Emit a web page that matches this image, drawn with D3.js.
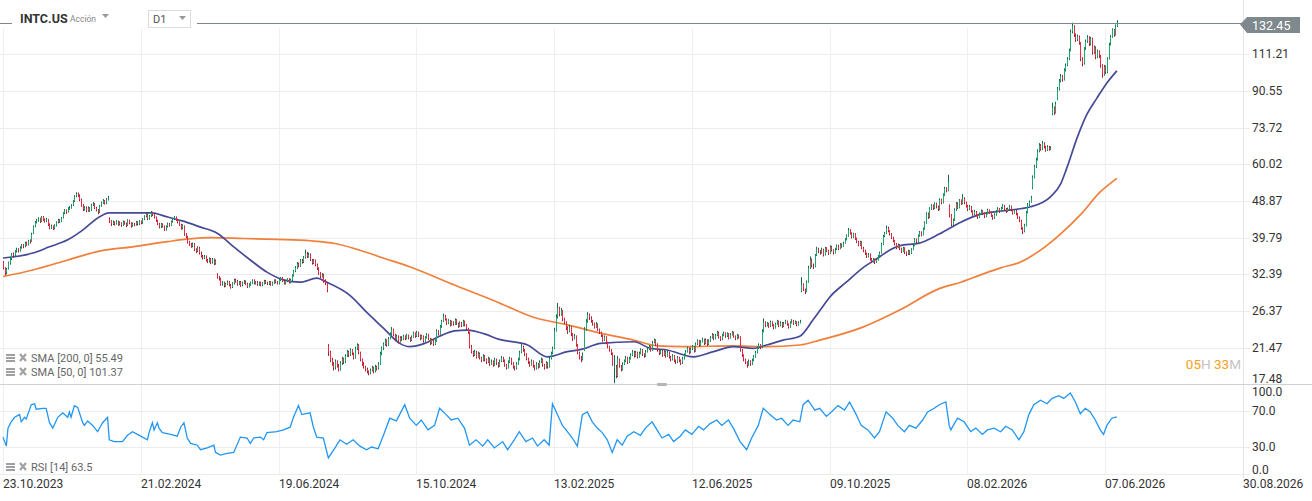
<!DOCTYPE html>
<html>
<head>
<meta charset="utf-8">
<script src="https://cdn.jsdelivr.net/npm/d3@7"></script>
<style>
html, body { margin: 0; padding: 0; background: #fff; }
svg { display: block; font-family: Roboto, "Noto Sans", sans-serif; }
</style>
</head>
<body>
<svg id="chart" width="1312" height="501"></svg>
<script>
// velas diarias [open, high, low, close]
const ohlc2023 = [
[34.7,34.9,33.3,33.6],[33.5,33.7,32.2,32.6],[32.7,33.6,32.4,33.4],[33.5,34.8,33.3,34.6],[34.5,35.6,34.2,35.3],[35.4,36.5,35.1,36.2],[36.3,36.6,35.6,36.0],[36.0,37.1,35.8,36.8],[36.9,37.6,36.6,37.2],[37.3,37.5,36.6,37.0],
[37.0,37.9,36.8,37.6],[37.7,38.4,37.4,38.1],[38.2,38.4,37.5,37.9],[37.9,38.9,37.7,38.6],[38.7,38.9,38.0,38.3],[38.3,39.3,38.1,39.0],[39.1,39.4,38.5,38.8],[39.0,40.9,38.9,40.6],[40.8,42.6,40.6,42.3],[42.5,43.7,42.2,43.4],
[43.5,44.2,43.1,43.8],[43.9,44.6,43.5,44.2],[44.3,44.5,43.2,43.5],[43.6,44.9,43.4,44.6],[44.7,44.9,43.7,44.0],[44.0,44.3,43.3,43.6],[43.7,44.5,43.4,44.1],[44.1,44.2,42.5,42.8],[42.9,43.1,41.7,42.0],[42.1,42.8,41.8,42.4],
[42.4,42.6,41.5,41.8],[41.9,42.9,41.7,42.6],[42.7,43.6,42.4,43.3],[43.4,44.2,43.1,43.9],[44.0,44.2,43.2,43.5],[43.6,44.7,43.4,44.4],[44.5,45.9,44.3,45.6],[45.7,46.7,45.4,46.3],[46.4,46.6,45.5,45.9],[46.0,47.2,45.8,46.8],
[46.9,47.5,46.5,47.0],[47.1,48.0,46.8,47.6],[47.7,49.1,47.5,48.7],[48.8,50.5,48.6,50.1],[50.2,51.3,49.9,50.8],[50.9,51.2,50.0,50.4],[50.4,50.7,48.8,49.2],[49.2,49.5,47.3,47.6]
];
const ohlc2024 = [
[47.7,48.0,46.2,46.6],[46.6,47.5,46.3,47.1],
[47.1,47.4,45.9,46.2],[46.3,47.4,46.0,47.0],[47.0,47.2,46.0,46.3],[46.4,48.1,46.2,47.8],[47.9,48.6,47.5,48.1],[48.1,48.3,46.7,47.0],[47.0,47.3,46.1,46.4],[46.4,46.7,45.4,45.8],[45.9,47.8,45.7,47.5],[47.6,48.7,47.3,48.3],
[48.4,49.4,48.1,48.9],[48.9,49.1,47.9,48.2],[48.3,49.7,48.0,49.3],[49.4,50.3,49.0,49.8],[44.2,44.6,43.2,43.6],[43.7,43.9,42.5,42.9],[43.0,43.8,42.7,43.4],[43.4,43.6,42.6,43.0],[43.1,43.9,42.8,43.6],[43.6,43.8,42.5,42.8],
[42.9,43.6,42.6,43.2],[43.2,43.4,42.3,42.7],[42.8,43.8,42.5,43.5],[43.5,43.7,42.8,43.1],[43.1,43.3,42.2,42.6],[42.7,44.1,42.5,43.8],[43.8,44.0,42.9,43.2],[43.2,43.4,42.1,42.5],[42.6,43.3,42.3,43.0],[43.0,43.2,42.4,42.8],
[42.9,43.7,42.6,43.4],[43.4,43.6,42.6,42.9],[43.0,43.9,42.7,43.6],[43.6,43.8,42.9,43.2],[43.3,44.4,43.0,44.1],[44.2,45.1,43.9,44.8],[44.9,45.8,44.6,45.4],[45.4,45.6,43.9,44.2],[44.3,45.2,44.0,44.9],[45.0,46.2,44.7,45.8],
[45.8,46.0,44.9,45.2],[45.2,45.4,44.3,44.6],[44.6,44.8,43.5,43.8],[43.8,44.0,42.7,43.0],[43.0,43.2,41.9,42.2],[42.3,43.2,42.0,42.9],[42.9,43.1,42.1,42.4],[42.4,42.6,41.3,41.6],[41.7,42.6,41.4,42.3],[42.4,43.3,42.1,43.0],
[43.0,43.2,42.3,42.6],[42.7,43.8,42.5,43.5],[43.6,44.4,43.3,44.1],[44.2,44.9,43.9,44.6],[44.6,44.8,43.7,44.0],[44.0,44.2,43.1,43.4],[43.4,43.6,42.5,42.8],[42.8,43.0,41.6,41.9],[42.0,42.9,41.7,42.6],[42.4,42.6,40.2,40.5],
[40.5,40.8,39.7,40.0],[40.0,40.2,38.5,38.8],[38.9,39.1,38.0,38.3],[38.3,38.6,37.6,37.9],[38.0,38.7,37.7,38.4],[38.4,38.6,36.9,37.2],[37.2,37.5,36.5,36.8],[36.9,37.9,36.7,37.6],[37.6,37.8,36.2,36.5],[36.5,36.8,35.6,35.9],
[35.9,36.1,35.2,35.5],[35.6,36.1,35.3,35.8],[35.8,36.0,34.8,35.1],[35.1,35.3,34.5,34.8],[34.9,35.6,34.6,35.3],[35.3,35.5,34.3,34.6],[34.7,35.5,34.4,35.2],[35.2,35.4,34.1,34.4],[34.5,35.2,34.2,34.9],[32.4,32.6,31.6,31.9],
[31.9,32.1,31.3,31.6],[31.6,31.8,30.4,30.6],[30.7,31.2,30.4,30.9],[30.9,31.1,30.1,30.4],[30.4,30.9,30.2,30.7],[30.7,31.3,30.5,31.0],[31.0,31.2,30.3,30.5],[30.5,30.7,29.9,30.1],[30.2,31.0,30.0,30.8],[30.8,31.6,30.6,31.4],
[31.4,31.6,30.9,31.2],[31.2,31.4,30.4,30.6],[30.7,31.2,30.5,31.0],[31.0,31.2,30.2,30.4],[30.5,31.1,30.3,30.9],[30.9,31.4,30.7,31.1],[31.1,31.3,30.5,30.7],[30.7,30.9,30.0,30.2],[30.3,30.8,30.1,30.6],[30.6,31.1,30.4,30.9],
[30.9,31.5,30.7,31.3],[31.3,31.5,30.6,30.8],[30.8,31.2,30.6,31.0],[31.0,31.2,30.4,30.6],[30.6,31.1,30.4,30.9],[30.9,31.1,30.3,30.5],[30.5,31.0,30.3,30.8],[30.8,31.4,30.6,31.2],[31.2,31.4,30.7,30.9],[30.9,31.1,30.5,30.7],
[30.7,31.2,30.5,31.0],[31.0,31.2,30.4,30.6],[30.6,31.1,30.4,30.9],[30.9,31.5,30.7,31.3],[31.3,31.5,30.8,31.0],[31.0,31.2,30.6,30.8],[30.8,31.6,30.6,31.4],[31.4,31.9,31.2,31.7],[31.7,31.9,31.0,31.2],[31.2,31.4,30.6,30.8],
[30.8,31.4,30.6,31.2],[31.2,31.7,31.0,31.5],[31.5,31.7,30.8,31.0],[31.0,31.6,30.8,31.4],[31.4,32.4,31.2,32.2],[32.2,33.2,32.0,33.0],[33.0,33.9,32.8,33.6],[33.6,34.7,33.4,34.4],[34.4,34.6,33.7,34.0],[34.0,35.3,33.8,35.0],
[35.0,35.3,34.4,34.7],[34.7,35.9,34.5,35.6],[35.6,37.2,35.4,36.4],[36.4,36.7,35.5,35.8],[35.8,36.6,35.6,36.2],[36.2,36.4,34.9,35.1],[35.1,35.3,34.2,34.5],[34.5,35.3,34.3,35.0],[35.0,35.2,33.9,34.2],[34.2,34.4,33.2,33.5],
[33.5,33.7,32.3,32.6],[32.6,32.8,31.7,32.0],[32.0,32.6,31.8,32.3],[32.3,32.5,30.9,31.2],[31.2,31.5,30.5,30.8],[30.8,31.0,29.3,29.6],[21.7,21.9,20.5,20.9],[20.9,21.1,19.8,20.0],[20.0,20.3,19.4,19.6],[19.6,19.8,18.9,19.2],
[19.2,20.1,19.0,19.9],[19.9,20.0,19.2,19.4],[19.4,19.6,18.8,19.0],[19.0,19.9,18.9,19.7],[19.7,20.4,19.5,20.2],[20.2,20.3,19.6,19.8],[19.8,20.7,19.7,20.5],[20.5,21.2,20.4,21.0],[21.0,21.1,20.4,20.6],[20.6,21.4,20.5,21.2],
[21.2,21.3,20.6,20.8],[20.8,20.9,20.1,20.3],[20.3,21.6,20.2,21.4],[21.4,22.0,21.2,21.8],[21.8,21.9,20.7,20.9],[20.9,21.0,19.9,20.1],[20.1,20.2,19.4,19.6],[19.6,19.8,19.1,19.3],[19.3,19.4,18.8,19.0],[19.0,19.2,18.6,18.8],
[18.8,18.9,18.4,18.6],[18.6,19.1,18.5,18.9],[18.9,19.4,18.8,19.2],[19.2,19.3,18.6,18.8],[18.8,19.5,18.7,19.3],[19.3,19.4,18.9,19.1],[19.1,19.8,19.0,19.6],[19.6,21.0,19.5,20.8],[20.8,21.6,20.6,21.4],[21.4,22.1,21.2,21.9],
[21.9,22.6,21.7,22.4],[22.4,22.5,21.6,21.8],[21.8,22.8,21.7,22.6],[22.6,23.4,22.5,23.2],[23.2,24.1,23.0,23.8],[23.8,23.9,22.9,23.1],[23.1,23.2,22.3,22.5],[22.5,23.1,22.4,22.9],[22.9,23.0,22.0,22.2],[22.2,22.9,22.1,22.7],
[22.7,22.9,22.3,22.5],[22.5,23.1,22.4,22.9],[22.9,23.0,22.4,22.6],[22.6,23.2,22.5,23.0],[23.0,23.1,22.5,22.7],[22.7,22.8,22.2,22.4],[22.4,23.0,22.3,22.8],[22.8,23.5,22.7,23.3],[23.3,23.4,22.7,22.9],[22.9,23.6,22.8,23.4],
[23.4,23.5,22.8,23.0],[23.0,23.1,22.4,22.6],[22.6,23.1,22.5,22.9],[22.9,23.0,22.1,22.3],[22.3,22.9,22.2,22.7],[22.7,23.3,22.6,23.1],[23.1,23.2,22.4,22.6],[22.6,22.7,21.8,22.0],[22.0,22.6,21.9,22.4],[22.4,22.5,21.7,21.9],
[21.9,22.5,21.8,22.3],[22.3,23.8,22.2,23.6],[23.6,23.7,23.0,23.2],[23.2,24.4,23.1,24.2],[24.2,25.1,24.0,24.9],[24.9,26.0,24.8,25.6],[25.6,25.8,25.0,25.2],[25.2,25.3,24.4,24.6],[24.6,25.2,24.5,25.0],[25.0,25.1,24.2,24.4],
[24.4,25.0,24.3,24.8],[24.8,24.9,24.3,24.5],[24.5,25.3,24.4,25.1],[25.1,25.2,24.4,24.6],[24.6,24.7,24.0,24.2],[24.2,24.9,24.1,24.7],[24.7,24.8,24.1,24.3],[24.3,25.1,24.2,24.9],[24.9,25.0,24.2,24.4],[24.4,24.5,23.7,23.9],
[23.9,24.0,23.2,23.4],[23.4,23.5,21.4,21.6],[21.6,21.8,20.8,21.0],[21.0,21.1,20.4,20.6],[20.6,21.2,20.5,21.0],[21.0,21.1,20.2,20.4],[20.4,21.0,20.3,20.8],[20.8,20.9,20.1,20.3],[20.3,20.4,19.8,20.0],[20.0,20.7,19.9,20.5],
[20.5,20.6,19.9,20.1],[20.1,20.2,19.6,19.8],[19.8,20.4,19.7,20.2],[20.2,20.3,19.4,19.6],[19.6,20.1,19.5,19.9],[19.9,20.0,19.3,19.5],[19.5,20.3,19.4,20.1],[20.1,20.2,19.5,19.7],[19.7,19.8,19.2,19.4],[19.4,20.1,19.3,19.9]
];
const ohlc2025 = [
[19.9,20.5,19.8,20.3],[20.3,20.4,19.8,20.0],[20.0,20.1,19.3,19.5],[19.5,19.6,19.0,19.2],[19.2,20.0,19.1,19.8],[19.8,20.4,19.7,20.2],[20.2,20.3,19.5,19.7],[19.7,19.8,19.1,19.3],[19.3,19.4,18.9,19.1],[19.1,19.8,19.0,19.6],
[19.6,20.3,19.5,20.1],[20.1,21.1,20.0,20.9],[20.9,21.9,20.8,21.6],[21.6,21.7,21.0,21.2],[21.2,21.3,20.5,20.7],[20.7,20.8,20.0,20.2],[20.2,20.3,19.6,19.8],[19.8,19.9,19.3,19.5],[19.5,20.1,19.4,19.9],[19.9,20.0,19.2,19.4],
[19.4,19.5,18.9,19.1],[19.1,19.8,19.0,19.6],[19.6,19.7,19.1,19.3],[19.3,20.0,19.2,19.8],[19.8,20.3,19.7,20.1],[20.1,20.2,19.3,19.5],[19.5,19.6,19.0,19.2],[19.2,19.9,19.1,19.7],[19.7,19.8,19.1,19.3],[19.3,20.4,19.2,20.2],
[20.2,21.0,20.1,20.8],[20.8,21.6,20.7,21.4],[21.4,24.0,21.3,23.6],[23.6,25.9,23.5,25.5],[25.5,27.6,25.3,26.8],[26.8,27.0,25.6,25.9],[25.9,26.8,25.7,26.4],[26.4,26.5,24.9,25.2],[25.2,25.4,24.5,24.8],[24.8,24.9,23.7,24.0],
[24.0,24.2,23.2,23.5],[23.5,24.4,23.4,24.1],[24.1,24.2,22.9,23.2],[23.2,23.3,22.3,22.6],[22.6,23.2,22.5,22.9],[22.9,23.0,21.6,21.8],[21.8,21.9,20.7,20.9],[20.9,21.0,20.1,20.3],[20.3,20.5,19.8,20.1],[20.1,20.9,20.0,20.6],
[21.2,24.1,21.1,23.8],[23.8,25.2,23.6,24.9],[24.9,26.2,24.7,25.8],[25.8,26.0,25.1,25.4],[25.4,25.6,24.7,25.0],[25.0,25.1,24.3,24.6],[24.6,24.7,23.9,24.1],[24.1,24.8,24.0,24.5],[24.5,24.6,23.6,23.8],[23.8,23.9,23.2,23.4],
[23.4,23.5,22.8,23.0],[23.0,23.1,22.2,22.4],[22.4,23.0,22.3,22.8],[22.8,22.9,21.9,22.1],[22.1,22.2,21.4,21.6],[21.6,21.7,21.0,21.2],[21.2,21.3,20.6,20.8],[20.8,20.9,19.4,19.6],[19.2,20.6,17.6,19.3],[19.3,19.5,18.1,18.3],
[18.3,20.5,18.2,20.1],[20.1,20.2,19.2,19.4],[19.4,19.5,18.8,19.0],[19.0,19.8,18.9,19.6],[19.6,20.1,19.5,19.9],[19.9,20.5,19.8,20.3],[20.3,20.4,19.6,19.8],[19.8,20.4,19.7,20.2],[20.2,20.8,20.1,20.6],[20.6,21.2,20.5,21.0],
[21.0,21.1,20.3,20.5],[20.5,21.1,20.4,20.9],[20.9,21.0,20.2,20.4],[20.4,21.0,20.3,20.8],[20.8,21.4,20.7,21.2],[21.2,21.3,20.5,20.7],[20.7,20.8,20.3,20.5],[20.5,21.2,20.4,21.0],[21.0,21.5,20.9,21.3],[21.3,21.8,21.2,21.6],
[21.6,21.7,21.0,21.2],[21.2,22.3,21.1,22.1],[22.1,22.6,22.0,22.4],[22.4,22.5,21.7,21.9],[21.9,22.0,21.0,21.2],[21.2,21.3,20.6,20.8],[20.8,21.3,20.7,21.1],[21.1,21.2,20.4,20.6],[20.6,21.2,20.5,21.0],[21.0,21.1,20.3,20.5],
[20.5,21.1,20.4,20.9],[20.9,21.0,20.2,20.4],[20.4,20.5,19.9,20.1],[20.1,20.7,20.0,20.5],[20.5,20.6,19.8,20.0],[20.0,20.1,19.6,19.8],[19.8,20.5,19.7,20.3],[20.3,20.4,19.8,20.0],[20.0,20.1,19.5,19.7],[19.7,20.4,19.6,20.2],
[20.2,20.8,20.1,20.6],[20.6,21.2,20.5,21.0],[21.0,21.6,20.9,21.4],[21.4,21.5,20.7,20.9],[20.9,21.5,20.8,21.3],[21.3,21.8,21.2,21.6],[21.6,21.7,20.9,21.1],[21.1,22.1,21.0,21.9],[21.9,22.5,21.8,22.3],[22.3,22.4,21.6,21.8],
[21.8,22.4,21.7,22.2],[22.2,22.7,22.1,22.5],[22.5,22.6,21.8,22.0],[22.0,22.6,21.9,22.4],[22.4,22.5,21.7,21.9],[21.9,22.5,21.8,22.3],[22.3,22.9,22.2,22.7],[22.7,23.3,22.6,23.1],[23.1,23.2,22.4,22.6],[22.6,23.2,22.5,23.0],
[23.0,23.6,22.9,23.4],[23.4,23.5,22.6,22.8],[22.8,22.9,22.3,22.5],[22.5,23.2,22.4,23.0],[23.0,23.5,22.9,23.3],[23.3,23.4,22.7,22.9],[22.9,23.4,22.8,23.2],[23.2,23.3,22.5,22.7],[22.7,23.3,22.6,23.1],[23.1,23.6,23.0,23.4],
[23.4,23.5,22.7,22.9],[22.9,23.0,22.4,22.6],[22.6,23.2,22.5,23.0],[23.0,23.1,22.6,22.8],[22.8,22.9,21.0,21.2],[21.2,21.3,20.4,20.6],[20.6,20.7,19.9,20.1],[20.1,20.2,19.6,19.8],[19.8,19.9,19.2,19.5],[19.5,20.1,19.4,19.9],
[19.9,20.0,19.4,19.6],[19.6,20.2,19.5,20.0],[20.0,20.6,19.9,20.4],[20.4,21.1,20.3,20.9],[20.9,21.6,20.8,21.4],[21.4,22.0,21.3,21.8],[21.8,21.9,21.3,21.5],[21.5,23.8,21.4,23.5],[23.5,25.3,23.4,24.8],[24.8,24.9,24.1,24.3],
[24.3,24.8,24.2,24.6],[24.6,24.7,24.0,24.2],[24.2,25.0,24.1,24.8],[24.8,24.9,24.2,24.4],[24.4,24.5,23.8,24.0],[24.0,24.7,23.9,24.5],[24.5,25.1,24.4,24.9],[24.9,25.0,24.1,24.3],[24.3,24.9,24.2,24.7],[24.7,24.8,24.0,24.2],
[24.2,24.8,24.1,24.6],[24.6,25.1,24.5,24.9],[24.9,25.0,24.3,24.5],[24.5,24.6,23.9,24.1],[24.1,24.9,24.0,24.7],[24.7,25.2,24.6,25.0],[25.0,25.1,24.4,24.6],[24.6,25.0,24.5,24.8],[24.8,24.9,24.2,24.4],[24.4,24.9,24.3,24.7],
[24.7,25.1,24.6,24.9],[29.5,31.9,29.3,30.6],[30.6,30.8,29.5,29.7],[29.7,29.9,29.0,29.4],[29.4,31.3,29.3,31.0],[31.0,34.0,30.9,33.6],[33.6,35.8,33.4,35.2],[35.2,35.4,33.7,34.0],[34.0,34.4,33.4,33.8],[33.8,36.3,33.7,36.0],
[36.0,37.8,35.9,37.4],[37.4,37.6,36.5,36.8],[36.8,37.1,36.2,36.6],[36.6,37.6,36.4,37.2],[37.2,37.4,35.8,36.1],[36.1,37.8,36.0,37.5],[37.5,37.7,36.7,37.0],[37.0,37.2,36.1,36.4],[36.4,38.1,36.3,37.8],[37.8,38.0,36.8,37.1],
[37.1,37.3,36.2,36.5],[36.5,37.6,36.4,37.3],[37.3,38.3,37.1,38.0],[38.0,38.2,37.1,37.4],[37.4,38.6,37.3,38.3],[38.3,38.5,37.6,37.9],[37.9,38.9,37.8,38.6],[38.6,39.7,38.5,39.4],[39.4,40.5,39.2,40.2],[40.2,42.0,40.0,41.5],
[41.5,41.7,40.5,40.8],[40.8,41.0,39.6,39.9],[39.9,40.9,39.7,40.6],[40.6,40.8,39.3,39.6],[39.6,39.8,38.6,38.9],[38.9,39.1,37.9,38.2],[38.2,39.1,38.0,38.8],[38.8,39.0,37.3,37.6],[37.6,37.8,36.7,37.0],[37.0,37.2,36.1,36.4],
[36.4,36.6,35.5,35.8],[35.8,36.5,35.6,36.2],[36.2,36.4,35.0,35.3],[35.3,35.5,34.5,34.8],[34.8,35.5,34.6,35.2],[35.2,35.4,34.3,34.6],[34.6,35.4,34.5,35.1],[35.1,36.1,35.0,35.8],[35.8,36.8,35.6,36.5],[36.5,38.7,36.4,38.4],
[38.4,40.4,38.2,40.1],[40.1,41.1,39.9,40.8],[40.8,42.6,40.6,42.0],[42.0,42.3,41.0,41.3],[41.3,41.5,40.3,40.6],[40.6,40.8,39.5,39.8],[39.8,40.0,38.8,39.1],[39.1,39.3,38.1,38.4],[38.4,38.6,37.3,37.6],[37.6,38.5,37.5,38.2],
[38.2,38.4,37.1,37.4],[37.4,37.6,36.5,36.8],[36.8,37.8,36.7,37.5],[37.5,37.7,36.3,36.6],[36.6,36.8,35.9,36.2],[36.2,37.2,36.1,36.9],[36.9,37.1,36.1,36.4],[36.4,37.5,36.3,37.2],[37.2,38.3,37.1,38.0],[38.0,39.7,37.9,39.4]
];
const ohlc2026 = [
[39.4,39.6,38.5,38.8],[38.8,40.5,38.7,40.2],[40.2,41.3,40.0,41.0],[41.0,41.2,40.1,40.4],[40.4,42.1,40.3,41.8],[41.8,43.6,41.6,43.2],[43.2,45.9,43.0,45.5],[45.5,45.8,44.2,44.6],[44.6,47.2,44.4,46.8],[46.8,48.0,46.5,47.6],
[47.6,47.9,46.5,46.9],[46.9,48.5,46.7,48.1],[48.1,48.4,46.9,47.3],[47.3,47.6,46.2,46.6],[46.6,49.6,46.4,49.2],[49.2,49.5,48.0,48.4],[48.4,51.0,48.2,50.6],[50.6,52.9,50.3,52.4],[52.4,52.8,51.3,51.8],[51.8,56.6,51.6,54.3],
[47.5,47.9,44.6,45.1],[45.1,45.4,42.4,42.8],[42.8,44.3,42.5,43.9],[43.9,46.9,43.7,46.5],[46.5,48.6,46.2,48.2],[48.2,48.5,46.7,47.1],[47.1,49.4,46.9,49.0],[49.0,49.3,47.8,48.2],[48.2,50.8,48.0,49.6],[49.6,49.9,48.0,48.4],
[48.4,48.7,47.1,47.5],[47.5,47.8,46.2,46.6],[46.6,47.8,46.4,47.3],[47.3,47.5,45.8,46.2],[46.2,46.4,45.0,45.4],[45.4,46.5,45.2,46.0],[46.0,46.2,44.8,45.1],[45.1,45.3,44.2,44.6],[44.6,45.8,44.4,45.4],[45.4,46.6,45.2,46.2],
[46.2,46.4,45.2,45.6],[45.6,45.8,44.4,44.8],[44.8,45.9,44.6,45.5],[45.5,46.8,45.3,46.4],[46.4,46.6,45.5,45.9],[45.9,46.1,44.7,45.0],[45.0,45.2,44.0,44.4],[44.4,45.6,44.2,45.2],[45.2,46.4,45.0,46.0],[46.0,47.2,45.8,46.8],
[46.8,47.0,45.7,46.1],[46.1,47.3,45.9,46.9],[46.9,48.0,46.7,47.6],[47.6,47.8,46.4,46.8],[46.8,47.0,45.7,46.1],[46.1,47.1,45.9,46.7],[46.7,47.8,46.5,47.4],[47.4,47.6,46.1,46.5],[46.5,46.7,45.3,45.7],[45.7,46.7,45.5,46.3],
[46.3,46.5,45.1,45.5],[45.5,45.7,44.2,44.6],[44.6,44.8,43.4,43.8],[43.8,44.0,41.6,42.0],[42.0,42.2,40.6,41.2],[41.2,43.0,41.0,42.6],[42.6,46.2,42.4,45.8],[45.8,48.3,45.6,47.9],[47.9,49.0,47.5,48.6],[48.6,50.3,48.4,49.8],
[52.5,56.4,52.2,55.8],[55.8,59.8,55.5,59.2],[59.2,62.3,58.8,61.6],[61.6,65.3,61.3,64.6],[64.6,67.6,64.2,66.8],[66.8,67.2,64.8,65.4],[65.4,68.4,65.0,67.5],[67.5,67.9,65.6,66.2],[66.2,66.6,64.4,65.0],[65.0,66.8,64.7,66.1],
[66.1,66.5,64.8,65.3],[65.3,66.4,65.0,65.8],[79.5,84.8,79.0,82.4],[82.4,83.0,79.2,80.1],[80.1,85.2,79.8,84.2],[86.5,92.6,86.0,91.5],[91.5,96.8,90.8,95.8],[95.8,99.6,95.0,98.2],[98.2,99.0,95.4,96.5],[96.5,102.8,96.0,101.8],
[101.8,105.6,101.0,104.6],[104.6,109.5,104.0,108.3],[108.3,114.8,107.6,113.5],[113.5,127.8,113.0,126.4],[126.4,132.8,125.0,130.2],[130.2,130.8,122.6,124.1],[124.1,125.0,119.2,120.6],[120.6,124.2,119.8,122.8],[122.8,123.5,117.4,118.5],[118.5,119.0,107.0,108.2],
[108.2,109.4,104.0,105.6],[105.6,115.8,105.0,114.8],[114.8,120.8,114.0,119.6],[119.6,123.8,118.6,122.4],[122.4,123.0,116.5,117.9],[117.9,122.6,117.0,121.5],[121.5,122.0,111.0,112.3],[112.3,116.8,111.5,115.6],[115.6,116.2,108.2,109.4],[109.4,114.2,108.8,113.0],
[113.0,113.6,109.0,110.2],[110.2,110.8,103.2,104.5],[104.5,105.2,97.5,99.2],[99.2,104.8,98.6,103.8],[103.8,104.4,99.6,100.6],[100.6,109.4,100.0,108.5],[108.5,118.6,108.0,117.4],[117.4,123.8,116.8,122.6],[122.6,128.6,122.0,127.5],[127.5,128.2,122.8,124.0],
[124.0,131.4,123.5,130.1],[130.1,134.6,129.5,132.45]
];

// medias moviles: [indice de vela, valor]
const sma50Pts = [[0,35.5],[18,36.5],[28,37.8],[39,39.3],[48,41.5],[58,44.7],[64,45.7],[89,45.7],[99,44.7],[108,43.7],[119,42.2],[129,40.8],[139,37.8],[149,35.1],[159,32.8],[169,31.4],[179,31.0],[189,31.7],[195,31.0],[209,28.8],[219,26.2],[229,24.0],[239,22.0],[245,21.6],[254,22.0],[263,22.9],[272,23.6],[280,23.7],[290,23.2],[299,22.5],[316,21.8],[328,20.4],[340,21.0],[349,21.3],[360,22.0],[380,22.2],[390,21.4],[400,21.2],[416,20.4],[428,21.0],[440,21.6],[452,21.4],[460,21.8],[470,22.4],[480,22.9],[488,25.1],[494,27.1],[498,28.5],[508,31.0],[518,33.6],[528,35.7],[534,37.1],[540,38.0],[552,38.6],[564,40.6],[577,43.4],[589,45.4],[601,46.2],[619,47.3],[631,50.0],[637,53.6],[641,59.0],[647,69.5],[653,79.5],[659,87.0],[665,94.7],[671,101.37]];
const sma200Pts = [[0,32.0],[18,33.2],[39,35.1],[58,36.9],[78,37.8],[99,38.9],[112,39.5],[125,39.8],[145,39.6],[165,39.4],[185,39.1],[200,38.5],[212,37.4],[229,35.5],[245,33.8],[272,30.5],[299,27.6],[319,25.5],[340,24.4],[360,23.3],[380,22.4],[394,21.7],[410,21.6],[440,21.7],[460,21.6],[480,21.8],[492,22.4],[518,24.1],[540,26.5],[564,29.9],[577,31.0],[589,32.3],[601,33.6],[613,34.7],[625,37.1],[637,40.6],[649,45.2],[661,51.4],[671,55.49]];

// RSI 14: [indice de vela, valor]
const rsiPts = [[0,41],[2,31],[3,51],[5,58],[7,63],[10,66],[11,58],[13,63],[14,61],[17,77],[19,78],[20,72],[24,73],[26,73],[28,57],[30,51],[33,63],[36,68],[39,63],[40,69],[41,63],[43,76],[45,74],[48,57],[49,54],[51,59],[54,54],[57,47],[60,57],[63,63],[64,38],[67,36],[72,36],[75,43],[78,47],[81,44],[87,38],[88,46],[90,57],[91,49],[93,57],[94,51],[96,46],[101,44],[105,42],[107,52],[109,57],[111,40],[113,34],[117,32],[119,27],[123,29],[127,32],[128,24],[131,21],[135,23],[139,24],[143,41],[147,40],[149,34],[151,40],[155,41],[157,38],[159,46],[165,47],[169,49],[173,52],[175,63],[178,76],[180,66],[185,68],[187,52],[189,41],[193,40],[196,18],
[200,29],[203,38],[207,33],[211,38],[215,31],[219,27],[222,30],[226,28],[230,47],[233,62],[237,59],[242,77],[245,62],[249,54],[252,60],[256,49],[260,54],[263,73],[267,66],[270,60],[274,62],[278,51],[281,32],[285,38],[289,31],[292,38],[296,29],[301,36],[304,27],[308,38],[311,47],[315,36],[319,40],[322,31],[326,38],[329,32],[331,78],[334,66],[337,54],[340,47],[343,40],[346,31],[349,66],[352,69],[355,58],[358,51],[361,46],[364,38],[367,24],[370,38],[373,32],[376,42],[380,47],[384,43],[387,51],[391,58],[394,49],[397,40],[401,44],[404,36],[408,42],[411,49],[415,44],[419,53],[422,49],[426,56],[430,60],[433,54],[437,60],[440,51],[444,36],[448,27],[451,40],[455,54],[458,73],[462,66],[466,60],[469,62],[473,54],[476,60],[480,58],[482,77],[485,82],[489,71],[492,73],[496,64],[499,69],[503,76],[507,71],[510,80],[514,66],[517,54],[521,49],[525,40],[528,47],[532,69],[536,62],[539,54],[543,47],[546,54],[550,51],[554,60],[557,69],[561,73],[564,77],[568,80],[570,54],[571,49],[575,62],[579,58],[583,47],[586,51],[590,44],[593,49],[597,51],[601,47],[604,53],[608,49],[612,38],[615,47],[618,66],[621,77],[625,82],[629,78],[632,84],[636,87],[639,84],[643,90],[646,80],[649,67],[652,73],[655,69],[658,60],[661,49],[663,44],[665,54],[668,62],[671,63.5]];

const priceTicks = [17.48, 21.47, 26.37, 32.39, 39.79, 48.87, 60.02, 73.72, 90.55, 111.21];
const rsiTicks = [100, 70, 30, 0];
const xTickBars = [0, 83, 166, 249, 332, 415, 498, 581, 664, 747];
const xTickLabels = ["23.10.2023", "21.02.2024", "19.06.2024", "15.10.2024", "13.02.2025", "12.06.2025", "09.10.2025", "08.02.2026", "07.06.2026", "30.08.2026"];
const lastPrice = 132.45;
const legendTexts = ["SMA [200, 0] 55.49", "SMA [50, 0] 101.37"];
const rsiLegend = "RSI [14] 63.5";

const ohlc = [].concat(ohlc2023, ohlc2024, ohlc2025, ohlc2026);

const svg = d3.select("#chart");

const x = d3.scaleLinear().domain([0, 747]).range([3, 1243]);
const y = d3.scaleLog().domain([17.48, lastPrice]).range([384.4, 23.1]);
const yr = d3.scaleLinear().domain([0, 100]).range([474, 384]);

const px = v => Math.round(v) + 0.5;

// rejilla horizontal
svg.append("g").selectAll("line").data(priceTicks).join("line")
    .attr("x1", 0).attr("x2", 1250)
    .attr("y1", d => px(y(d))).attr("y2", d => px(y(d)))
    .attr("stroke", "#ececec");

svg.append("g").selectAll("line").data(rsiTicks.slice(1)).join("line")
    .attr("x1", 0).attr("x2", 1250)
    .attr("y1", d => px(yr(d))).attr("y2", d => px(yr(d)))
    .attr("stroke", "#ececec");

// rejilla vertical
svg.append("g").selectAll("line").data(xTickBars.slice(0, -1)).join("line")
    .attr("x1", d => px(x(d))).attr("x2", d => px(x(d)))
    .attr("y1", 28).attr("y2", 474)
    .attr("stroke", "#efefef");

// eje derecho
svg.append("line")
    .attr("x1", px(x(747))).attr("x2", px(x(747)))
    .attr("y1", 0).attr("y2", 478)
    .attr("stroke", "#e4e4e4");

// separador de paneles
svg.append("line")
    .attr("x1", 0).attr("x2", 1312)
    .attr("y1", 384.5).attr("y2", 384.5)
    .attr("stroke", "#cfd2d4");

// medias moviles
const smaLine = d3.line()
    .x(d => x(d[0]))
    .y(d => y(d[1]))
    .curve(d3.curveMonotoneX);

svg.append("path").datum(sma200Pts)
    .attr("d", smaLine)
    .attr("fill", "none")
    .attr("stroke", "#f07f3c")
    .attr("stroke-width", 1.7);

svg.append("path").datum(sma50Pts)
    .attr("d", smaLine)
    .attr("fill", "none")
    .attr("stroke", "#454a97")
    .attr("stroke-width", 1.7);

// velas
const velas = svg.append("g").selectAll("g").data(ohlc).join("g");

velas.append("line")
    .attr("x1", (d, i) => px(x(i))).attr("x2", (d, i) => px(x(i)))
    .attr("y1", d => y(d[1])).attr("y2", d => y(d[2]))
    .attr("stroke", d => d[3] >= d[0] ? "#0e6e47" : "#a8182c")
    .attr("stroke-width", 1);

velas.append("rect")
    .attr("x", (d, i) => Math.round(x(i)))
    .attr("width", 1)
    .attr("y", d => y(Math.max(d[0], d[3])))
    .attr("height", d => Math.max(1, Math.abs(y(d[0]) - y(d[3]))))
    .attr("fill", d => d[3] >= d[0] ? "#1fa870" : "#f02a40");

// RSI
const rsiLine = d3.line()
    .x(d => x(d[0]))
    .y(d => yr(d[1]));

svg.append("path").datum(rsiPts)
    .attr("d", rsiLine)
    .attr("fill", "none")
    .attr("stroke", "#2196f3")
    .attr("stroke-width", 1.3);

// linea de ultimo precio
svg.append("line")
    .attr("x1", 0).attr("x2", 1243)
    .attr("y1", px(y(lastPrice))).attr("y2", px(y(lastPrice)))
    .attr("stroke", "#7d868a");

svg.append("path")
    .attr("d", `M1240,${y(lastPrice) + 1.5} L1247,17 L1300,17 L1300,33 L1247,33 Z`)
    .attr("fill", "#7f898d");

svg.append("text")
    .attr("x", 1252).attr("y", 25)
    .attr("dominant-baseline", "central")
    .attr("font-size", 12.5)
    .attr("fill", "#fff")
    .text(lastPrice.toFixed(2));

// etiquetas eje de precios
svg.append("g").selectAll("text").data(priceTicks).join("text")
    .attr("x", 1252)
    .attr("y", d => d === 17.48 ? 379 : y(d))
    .attr("dominant-baseline", "central")
    .attr("font-size", 12)
    .attr("fill", "#333")
    .text(d => d.toFixed(2));

svg.append("g").selectAll("text").data(rsiTicks).join("text")
    .attr("x", 1252)
    .attr("y", d => d === 100 ? 392 : d === 0 ? 470 : yr(d))
    .attr("dominant-baseline", "central")
    .attr("font-size", 12)
    .attr("fill", "#333")
    .text(d => d.toFixed(1));

// fechas
svg.append("g").selectAll("text").data(xTickBars).join("text")
    .attr("x", d => Math.round(x(d)))
    .attr("y", 488)
    .attr("font-size", 12)
    .attr("fill", "#333")
    .text((d, i) => xTickLabels[i]);

// cabecera
svg.append("rect").attr("x", 12).attr("y", 4).attr("width", 185).attr("height", 24).attr("fill", "#fff");
svg.append("text").attr("x", 20).attr("y", 23)
    .attr("font-size", 12.5).attr("font-weight", "bold").attr("fill", "#333")
    .text("INTC.US");
svg.append("text").attr("x", 70).attr("y", 22)
    .attr("font-size", 8.5).attr("fill", "#888")
    .text("Acción");
svg.append("path").attr("d", "M102,14 L109,14 L105.5,18 Z").attr("fill", "#999");
svg.append("rect").attr("x", 148.5).attr("y", 10.5).attr("width", 42).attr("height", 17)
    .attr("fill", "#fff").attr("stroke", "#dcdcdc");
svg.append("text").attr("x", 153).attr("y", 23)
    .attr("font-size", 11).attr("fill", "#555")
    .text("D1");
svg.append("path").attr("d", "M179,16 L186,16 L182.5,20 Z").attr("fill", "#999");

// leyendas de indicadores
function leyenda(yTop, texto) {
    const lg = svg.append("g");
    [0, 3, 6].forEach(dy => {
        lg.append("rect").attr("x", 6).attr("y", yTop + dy).attr("width", 9).attr("height", 2).attr("fill", "#a0a0a0");
    });
    lg.append("path")
        .attr("d", `M20,${yTop} L26,${yTop + 7} M26,${yTop} L20,${yTop + 7}`)
        .attr("stroke", "#a0a0a0").attr("stroke-width", 2.2);
    lg.append("text").attr("x", 31).attr("y", yTop + 8)
        .attr("font-size", 11).attr("fill", "#666")
        .text(texto);
}
leyenda(354, legendTexts[0]);
leyenda(368, legendTexts[1]);
leyenda(463, rsiLegend);

// tiempo restante
const t = svg.append("text").attr("x", 1241).attr("y", 369)
    .attr("text-anchor", "end").attr("font-size", 13.5);
t.append("tspan").attr("fill", "#f7a11a").text("05");
t.append("tspan").attr("fill", "#c4c4c4").text("H ");
t.append("tspan").attr("fill", "#f7a11a").text("33");
t.append("tspan").attr("fill", "#c4c4c4").text("M");

// asa del separador
svg.append("rect").attr("x", 657).attr("y", 383).attr("width", 10).attr("height", 3).attr("rx", 1)
    .attr("fill", "#b5b5b5");
</script>
</body>
</html>
